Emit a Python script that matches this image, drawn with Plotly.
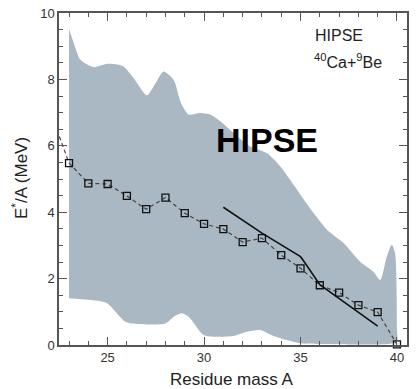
import plotly.graph_objects as go

# Mean excitation energy points (squares, dashed line)
mass_A = [23, 24, 25, 26, 27, 28, 29, 30, 31, 32, 33, 34, 35, 36, 37, 38, 39, 40]
estar_A = [5.48, 4.87, 4.85, 4.49, 4.09, 4.44, 3.97, 3.65, 3.49, 3.10, 3.22, 2.71,
           2.31, 1.80, 1.58, 1.20, 0.99, 0.02]
# dashed line extension at left edge
dash_ext_x = [22.5, 23]
dash_ext_y = [6.28, 5.48]

# Solid line
solid_x = [31, 33, 35, 35.2, 36, 39]
solid_y = [4.15, 3.37, 2.66, 2.5, 1.82, 0.57]

# Band (spread) upper and lower boundaries
band_up_x = [23.0, 23.3, 23.58, 24.27, 24.97, 25.5, 25.83, 26.4, 27.04, 27.5, 27.9, 28.42,
             28.8, 29.2, 29.8, 30.32, 30.84, 31.5, 32.39, 33.25, 33.95, 34.46, 35.15,
             35.67, 36.37, 37.23, 38.09, 38.78, 39.13, 39.47, 39.73, 39.9, 40.0]
band_up_y = [9.52, 9.0, 8.60, 8.37, 8.47, 8.45, 8.39, 8.0, 7.52, 7.9, 8.24, 7.99,
             7.3, 6.94, 6.99, 6.94, 6.74, 6.4, 5.98, 5.78, 5.38, 4.98, 4.4,
             3.98, 3.47, 3.07, 2.51, 2.21, 1.96, 2.66, 3.02, 2.77, 0.45]
band_lo_x = [23.0, 24.0, 24.97, 25.92, 26.61, 27.99, 28.5, 28.85, 29.2, 29.97, 30.5,
             31.5, 32.22, 32.91, 33.6, 34.98, 36.0, 39.5, 40.0]
band_lo_y = [1.41, 1.36, 1.26, 0.70, 0.63, 0.65, 0.88, 0.96, 0.85, 0.3, 0.25,
             0.27, 0.4, 0.45, 0.27, 0.05, 0.03, 0.03, 0.1]

x_ticks = [25, 30, 35, 40]
y_ticks = [0, 2, 4, 6, 8, 10]

FONT = "Liberation Sans, Arial, sans-serif"

poly_x = band_up_x + band_lo_x[::-1]
poly_y = band_up_y + band_lo_y[::-1]

fig = go.Figure()
fig.add_trace(go.Scatter(x=poly_x, y=poly_y, fill="toself", mode="lines",
                         line=dict(width=0, color="#a9b8c3", shape="spline", smoothing=0.7),
                         fillcolor="#a9b8c3", hoverinfo="skip", showlegend=False))
fig.add_trace(go.Scatter(x=dash_ext_x, y=dash_ext_y, mode="lines",
                         line=dict(color="#444", width=1.2, dash="4px,3px"),
                         showlegend=False))
fig.add_trace(go.Scatter(x=mass_A, y=estar_A, mode="lines+markers",
                         line=dict(color="#444", width=1.2, dash="4px,3px"),
                         marker=dict(symbol="square-open", size=7,
                                     color="#111", line=dict(width=1.3, color="#111")),
                         showlegend=False, cliponaxis=False))
fig.add_trace(go.Scatter(x=solid_x, y=solid_y, mode="lines",
                         line=dict(color="#111", width=1.6), showlegend=False))

axis_common = dict(showline=True, linecolor="#555", linewidth=1.5, mirror="ticks",
                   ticks="inside", ticklen=8, tickwidth=1.2, tickcolor="#555",
                   showgrid=False, zeroline=False, automargin=False,
                   tickfont=dict(family=FONT, size=13, color="#333"))

fig.update_xaxes(range=[22.48, 40.52], tickvals=x_ticks,
                 minor=dict(ticks="inside", dtick=1, tick0=0, ticklen=4,
                            tickcolor="#555", tickwidth=1),
                 **axis_common)
fig.update_yaxes(range=[0, 10], tickvals=y_ticks,
                 minor=dict(ticks="inside", dtick=0.5, tick0=0, ticklen=4,
                            tickcolor="#555", tickwidth=1),
                 **axis_common)

L, R, T, B = 59, 12, 13, 44
W, H = 419, 389
pw, ph = W - L - R, H - T - B


def paper_x(px):
    return (px - L) / pw


def paper_y(py):
    return (H - B - py) / ph


annotations = [
    dict(x=paper_x(266.7), y=paper_y(140), text="<b>HIPSE</b>",
         font=dict(family=FONT, size=34, color="black")),
    dict(x=paper_x(339), y=paper_y(36), text="HIPSE",
         font=dict(family=FONT, size=16, color="#222")),
    dict(x=paper_x(348), y=paper_y(61), text="<sup>40</sup>Ca+<sup>9</sup>Be",
         font=dict(family=FONT, size=16, color="#222")),
    dict(x=paper_x(231), y=paper_y(379), text="Residue mass A",
         font=dict(family=FONT, size=17, color="#222")),
    dict(x=paper_x(20), y=paper_y(178), text="E<sup>*</sup>/A (MeV)", textangle=-90,
         font=dict(family=FONT, size=17, color="#222")),
]
for a in annotations:
    fig.add_annotation(xref="paper", yref="paper", showarrow=False,
                       xanchor="center", yanchor="middle", **a)

fig.update_layout(width=W, height=H, margin=dict(l=L, r=R, t=T, b=B),
                  plot_bgcolor="white", paper_bgcolor="white",
                  font=dict(family=FONT))

fig.write_html("out.html")
